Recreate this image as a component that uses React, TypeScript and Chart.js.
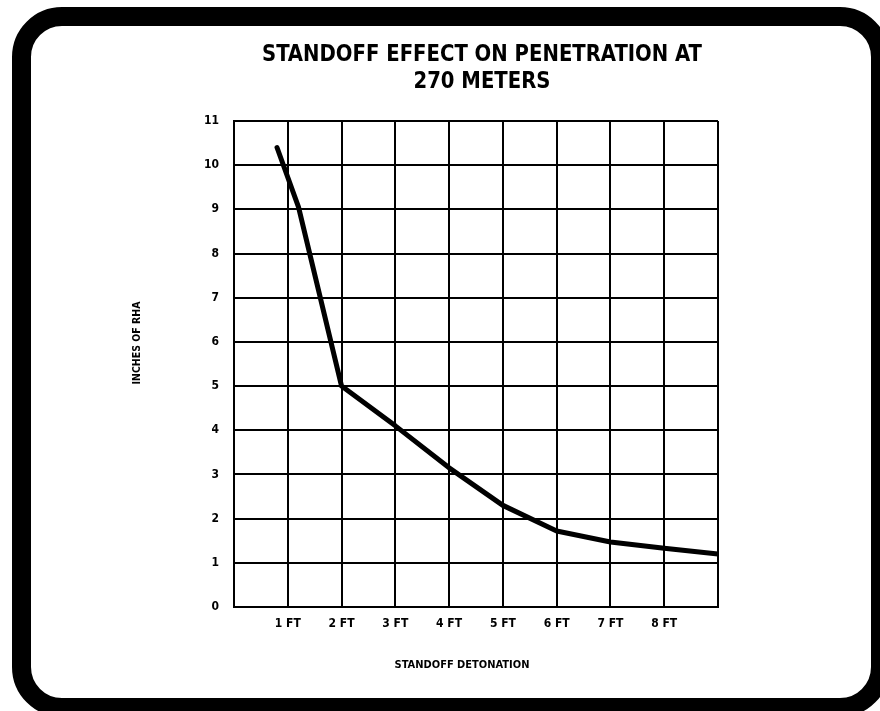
import { useEffect, useRef } from "react";
import { Chart, registerables } from "chart.js";

Chart.register(...registerables);

// ---- data ----
const standoffFeet = [0.8, 1.2, 2, 3, 4, 5, 6, 7, 8, 9];
const penetrationInches = [10.4, 9.05, 5, 4.1, 3.15, 2.3, 1.72, 1.47, 1.33, 1.2];
const xTickLabels = ["", "1 FT", "2 FT", "3 FT", "4 FT", "5 FT", "6 FT", "7 FT", "8 FT", ""];
const yTickLabels = ["0", "1", "2", "3", "4", "5", "6", "7", "8", "9", "10", "11"];
const titleLines = ["STANDOFF EFFECT ON PENETRATION AT", "270 METERS"];
const yAxisTitle = "INCHES OF RHA";
const xAxisTitle = "STANDOFF DETONATION";

const FONT = '"DejaVu Sans Condensed", "Liberation Sans Narrow", "DejaVu Sans", sans-serif';

function drawFitted(ctx: CanvasRenderingContext2D, text: string, x: number, y: number, scale: number) {
  ctx.save();
  ctx.translate(x, y);
  ctx.scale(scale, 1);
  ctx.fillText(text, 0, 0);
  ctx.restore();
}

const textPlugin = {
  id: "chartTexts",
  afterDraw(chart: any) {
    const ctx: CanvasRenderingContext2D = chart.ctx;
    ctx.save();
    ctx.fillStyle = "#000";
    ctx.textAlign = "center";
    ctx.textBaseline = "middle";

    // main title
    ctx.font = `bold 23px ${FONT}`;
    const w1 = ctx.measureText(titleLines[0]).width;
    const s1 = Math.min(1, 440 / w1);
    drawFitted(ctx, titleLines[0], 482, 55, s1);
    drawFitted(ctx, titleLines[1], 482, 82, s1);

    // x axis title
    ctx.font = `bold 11px ${FONT}`;
    const wx = ctx.measureText(xAxisTitle).width;
    drawFitted(ctx, xAxisTitle, 462, 665, Math.min(1, 139 / wx));

    // y axis title
    const wy = ctx.measureText(yAxisTitle).width;
    ctx.save();
    ctx.translate(137, 343);
    ctx.rotate(-Math.PI / 2);
    ctx.scale(Math.min(1, 83 / wy), 1);
    ctx.fillText(yAxisTitle, 0, 0);
    ctx.restore();

    ctx.restore();
  },
};

const whiteBg = {
  id: "whiteBg",
  beforeDraw(chart: any) {
    const ctx = chart.ctx;
    ctx.save();
    ctx.fillStyle = "#fff";
    ctx.fillRect(0, 0, chart.width, chart.height);
    ctx.restore();
  },
};

export default function App() {
  const canvasRef = useRef<HTMLCanvasElement | null>(null);

  useEffect(() => {
    if (!canvasRef.current) return;
    const points = standoffFeet.map((x, i) => ({ x, y: penetrationInches[i] }));
    const chart = new Chart(canvasRef.current, {
      type: "line",
      data: {
        datasets: [
          {
            data: points,
            borderColor: "#000",
            borderWidth: 5,
            pointRadius: 0,
            tension: 0,
            borderCapStyle: "round",
            borderJoinStyle: "round",
            fill: false,
          },
        ],
      },
      options: {
        responsive: false,
        animation: false,
        events: [],
        layout: { padding: { left: 0, top: 121, right: 162, bottom: 0 } },
        plugins: {
          legend: { display: false },
          title: { display: false },
          tooltip: { enabled: false },
        },
        scales: {
          x: {
            type: "linear",
            min: 0,
            max: 9,
            afterFit: (scale: any) => {
              scale.height = 104;
            },
            afterBuildTicks: (scale: any) => {
              scale.ticks = xTickLabels.map((_, i) => ({ value: i }));
            },
            ticks: {
              stepSize: 1,
              autoSkip: false,
              maxRotation: 0,
              padding: 10,
              color: "#000",
              font: { family: FONT, size: 12, weight: "bold" },
              callback: (v: any) => xTickLabels[Math.round(Number(v))] ?? "",
            },
            grid: { color: "#000", lineWidth: 2, drawTicks: false },
            border: { display: true, color: "#000", width: 2 },
          },
          y: {
            type: "linear",
            min: 0,
            max: 11,
            afterFit: (scale: any) => {
              scale.width = 234;
            },
            afterBuildTicks: (scale: any) => {
              scale.ticks = yTickLabels.map((_, i) => ({ value: i }));
            },
            ticks: {
              stepSize: 1,
              autoSkip: false,
              padding: 15,
              color: "#000",
              font: { family: FONT, size: 12, weight: "bold" },
              callback: (v: any) => yTickLabels[Math.round(Number(v))] ?? "",
            },
            grid: { color: "#000", lineWidth: 2, drawTicks: false },
            border: { display: true, color: "#000", width: 2 },
          },
        },
      },
      plugins: [whiteBg, textPlugin],
    } as any);
    return () => chart.destroy();
  }, []);

  return (
    <div
      style={{
        position: "absolute",
        left: 0,
        top: 0,
        width: 880,
        height: 711,
        overflow: "hidden",
        background: "#fff",
      }}
    >
      <canvas
        ref={canvasRef}
        width={880}
        height={711}
        style={{ position: "absolute", left: 0, top: 0, width: 880, height: 711 }}
      />
      <div
        style={{
          position: "absolute",
          left: 12,
          top: 7,
          width: 878,
          height: 710,
          boxSizing: "border-box",
          border: "19px solid #000",
          borderRadius: 50,
          pointerEvents: "none",
        }}
      />
    </div>
  );
}
